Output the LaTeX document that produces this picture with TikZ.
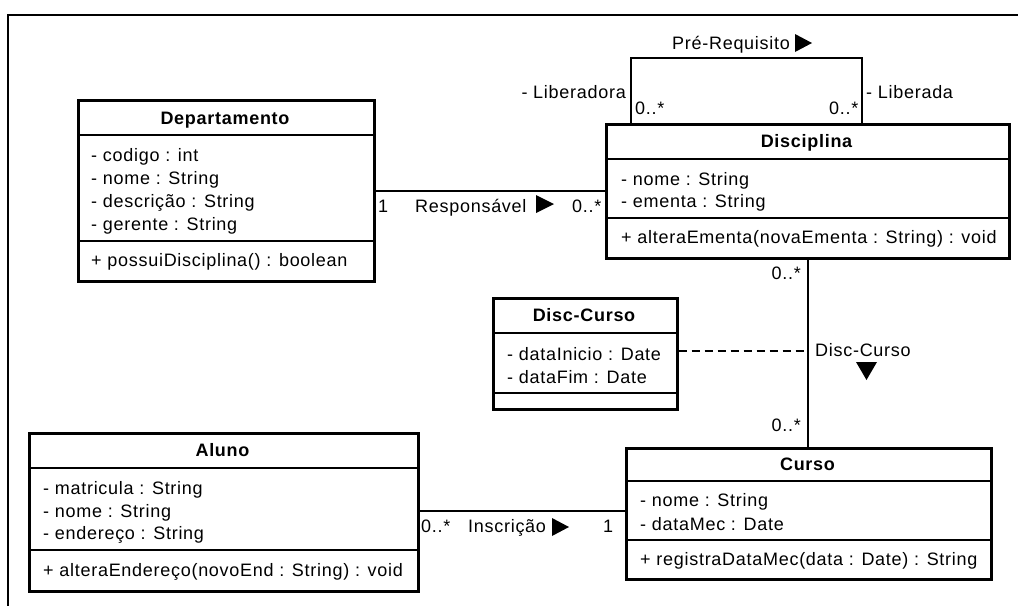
\documentclass[tikz,border=0pt]{standalone}
\usepackage{fontspec}
\setmainfont{Liberation Sans}[LetterSpace=4]
\begin{document}
\begin{tikzpicture}[x=1pt,y=-1pt,
  txt/.style={font=\fontsize{18}{22}\selectfont, inner sep=0pt},
  attr/.style={txt, anchor=base west},
  ttl/.style={inner sep=0pt, font=\fontsize{18}{22}\selectfont\bfseries, anchor=base},
  cls/.style={draw, line width=2.6pt, anchor=north west, inner sep=0pt, fill=white},
  sep/.style={line width=1.6pt},
  assoc/.style={line width=1.4pt},
  lbl/.style={txt, anchor=base west},
  lblr/.style={txt, anchor=base east},
  tri/.style={fill=black}
]
\useasboundingbox (0,0) rectangle (1018,606);
\fill[white] (0,0) rectangle (1018,606);
\draw[line width=1.8pt] (1018,15) -- (8,15) -- (8,606);

% ---------- Departamento ----------
\node[cls, minimum width=296pt, minimum height=181pt] (dep) at (77,99) {};
\draw[sep] (dep.west |- 0,135) -- (dep.east |- 0,135);
\draw[sep] (dep.west |- 0,241) -- (dep.east |- 0,241);
\node[ttl] (dep-t) at (225,124) {Departamento};
\node[attr] (dep-a1) at (91,161) {- codigo : int};
\node[attr] (dep-a2) at (91,184) {- nome : String};
\node[attr] (dep-a3) at (91,207) {- descrição : String};
\node[attr] (dep-a4) at (91,230) {- gerente : String};
\node[attr] (dep-m1) at (91,266) {+ possuiDisciplina() : boolean};

% ---------- Disciplina ----------
\node[cls, minimum width=403pt, minimum height=134pt] (disc) at (605,123) {};
\draw[sep] (disc.west |- 0,159) -- (disc.east |- 0,159);
\draw[sep] (disc.west |- 0,218) -- (disc.east |- 0,218);
\node[ttl] (disc-t) at (806.5,147) {Disciplina};
\node[attr] (disc-a1) at (621,185) {- nome : String};
\node[attr] (disc-a2) at (621,207) {- ementa : String};
\node[attr] (disc-m1) at (621,243) {+ alteraEmenta(novaEmenta : String) : void};

% ---------- Disc-Curso ----------
\node[cls, minimum width=184pt, minimum height=111pt] (dc) at (492,297) {};
\draw[sep] (dc.west |- 0,333) -- (dc.east |- 0,333);
\draw[sep] (dc.west |- 0,393) -- (dc.east |- 0,393);
\node[ttl] (dc-t) at (584,321) {Disc-Curso};
\node[attr] (dc-a1) at (507,360) {- dataInicio : Date};
\node[attr] (dc-a2) at (507,383) {- dataFim : Date};

% ---------- Aluno ----------
\node[cls, minimum width=389pt, minimum height=158pt] (aluno) at (28,432) {};
\draw[sep] (aluno.west |- 0,468) -- (aluno.east |- 0,468);
\draw[sep] (aluno.west |- 0,550) -- (aluno.east |- 0,550);
\node[ttl] (aluno-t) at (222.5,456) {Aluno};
\node[attr] (aluno-a1) at (43,494) {- matricula : String};
\node[attr] (aluno-a2) at (43,517) {- nome : String};
\node[attr] (aluno-a3) at (43,539) {- endereço : String};
\node[attr] (aluno-m1) at (43,576) {+ alteraEndereço(novoEnd : String) : void};

% ---------- Curso ----------
\node[cls, minimum width=365pt, minimum height=131pt] (curso) at (625,447) {};
\draw[sep] (curso.west |- 0,481) -- (curso.east |- 0,481);
\draw[sep] (curso.west |- 0,540) -- (curso.east |- 0,540);
\node[ttl] (curso-t) at (807.5,470) {Curso};
\node[attr] (curso-a1) at (640,506) {- nome : String};
\node[attr] (curso-a2) at (640,530) {- dataMec : Date};
\node[attr] (curso-m1) at (640,565) {+ registraDataMec(data : Date) : String};

% ---------- Pré-Requisito (self association) ----------
\coordinate (preL) at (631,58);
\coordinate (preR) at (862,58);
\draw[assoc] (disc.north -| preL) -- (preL) -- (preR) -- (disc.north -| preR);
\node[lbl] (pre-l) at (672,49) {Pré-Requisito};
\fill[tri] (795,34) -- (812,43) -- (795,52) -- cycle;
\node[lblr] (lib-l) at (626,98) {- Liberadora};
\node[lbl] (libd-l) at (866,98) {- Liberada};
\node[lbl] (pre-m1) at (635,114) {0..*};
\node[lbl] (pre-m2) at (829,114) {0..*};

% ---------- Responsável ----------
\draw[assoc] (dep.east |- 0,191) -- (disc.west |- 0,191);
\node[lbl] (resp-m1) at (378,212) {1};
\node[lbl] (resp-l) at (415,212) {Responsável};
\fill[tri] (536,195) -- (554,204) -- (536,213) -- cycle;
\node[lbl] (resp-m2) at (572,212) {0..*};

% ---------- Disc-Curso association ----------
\coordinate (dcx) at (808,0);
\coordinate (dcmid) at (808,351);
\draw[assoc] (disc.south -| dcx) -- (curso.north -| dcx);
\draw[assoc, dash pattern=on 8pt off 5pt] (dc.east |- dcmid) -- (dcmid);
\node[lblr] (dca-m1) at (801,279) {0..*};
\node[lblr] (dca-m2) at (801,431) {0..*};
\node[lbl] (dca-l) at (815,356) {Disc-Curso};
\fill[tri] (856,362) -- (877,362) -- (866.5,380) -- cycle;

% ---------- Inscrição ----------
\draw[assoc] (aluno.east |- 0,511) -- (curso.west |- 0,511);
\node[lbl] (ins-m1) at (421,532) {0..*};
\node[lbl] (ins-l) at (468,532) {Inscrição};
\fill[tri] (552,518) -- (569,527) -- (552,536) -- cycle;
\node[lbl] (ins-m2) at (603,532) {1};
\end{tikzpicture}
\end{document}
